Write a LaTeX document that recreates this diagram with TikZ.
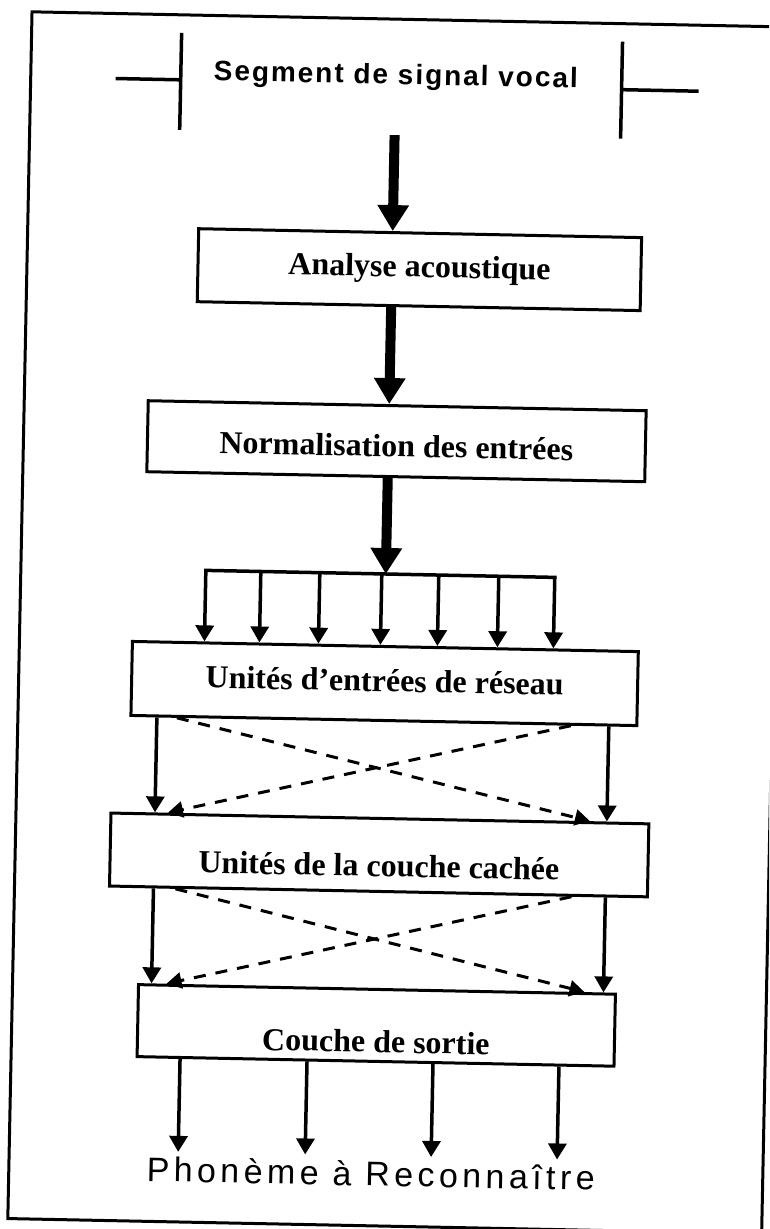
\documentclass[tikz,border=0pt]{standalone}
\usepackage{fontspec}
\usetikzlibrary{arrows.meta}
\newfontfamily\boxfont{Liberation Serif}
\newfontfamily\capfont{Liberation Sans}[LetterSpace=7]
\newfontfamily\outfont{Liberation Sans}[LetterSpace=13]
\begin{document}
\begin{tikzpicture}[x=1pt,y=-1pt,
  box/.style={draw, line width=3pt, inner sep=0pt, anchor=north,
    font={\boxfont\bfseries\fontsize{32pt}{36pt}\selectfont}},
  bigarrow/.style={line width=10pt, -{Triangle[width=30pt,length=26pt]}},
  thinarrow/.style={line width=3.5pt, -{Triangle[width=18pt,length=16pt]}},
  dasharrow/.style={line width=3pt, dash pattern=on 12pt off 10pt,
    -{Triangle[width=16pt,length=15pt]}},
  tickline/.style={line width=3.5pt},
  frameline/.style={line width=3pt}]
\useasboundingbox (0,0) rectangle (769,1229);
\clip (0,0) rectangle (769,1229);
\begin{scope}[rotate around={-1.15:(384.5,614.5)}, transform shape]
  % outer frame
  \draw[frameline] (20,19) rectangle (774,1226);

  % input segment with its two delimiters
  \node[font={\capfont\bfseries\fontsize{28pt}{31pt}\selectfont}, anchor=base, inner sep=0pt]
    (title) at (385,84) {Segment de signal vocal};
  \draw[tickline] (105,84) -- (170,84);
  \draw[tickline] (170,37) -- (170,134);
  \draw[tickline] (611,37) -- (611,134);
  \draw[tickline] (611,85) -- (688,85);

  % processing chain
  \node[box, minimum width=443pt, text height=44pt, text depth=29pt] (b1) at (412.5,231) {Analyse acoustique};
  \node[box, minimum width=498pt, text height=51pt, text depth=20pt] (b2) at (393,404) {Normalisation des entrées};
  \node[box, minimum width=506pt, text height=45pt, text depth=29pt] (b3) at (386,645) {Unités d’entrées de réseau};
  \node[box, minimum width=538pt, text height=58pt, text depth=15pt] (b4) at (384,817) {Unités de la couche cachée};
  \node[box, minimum width=477pt, text height=63pt, text depth=9pt] (b5) at (384.5,988) {Couche de sortie};

  % thick arrows down the centre
  \coordinate (src) at (385,135);
  \draw[bigarrow] (src) -- (385,0 |- b1.north);
  \draw[bigarrow] (385,0 |- b1.south) -- (385,0 |- b2.north);
  \coordinate (busL) at (205,574);
  \coordinate (busR) at (554,574);
  \coordinate (busM) at (385,574);
  \draw[bigarrow] (385,0 |- b2.south) -- (busM);

  % distribution bus to the input units
  \draw[line width=3.5pt, line cap=rect] (busL) -- (busR);
  \foreach \x in {205,260,319,381,438,498,554}
    \draw[thinarrow] (\x,574) -- (\x,0 |- b3.north);

  % input units -> hidden layer
  \draw[thinarrow] (159,0 |- b3.south) -- (159,0 |- b4.north);
  \draw[thinarrow] (611,0 |- b3.south) -- (611,0 |- b4.north);
  \draw[dasharrow] (179,0 |- b3.south) -- (594,0 |- b4.north);
  \draw[dasharrow] (573,0 |- b3.south) -- (172,0 |- b4.north);

  % hidden layer -> output layer
  \draw[thinarrow] (159,0 |- b4.south) -- (159,0 |- b5.north);
  \draw[thinarrow] (611,0 |- b4.south) -- (611,0 |- b5.north);
  \draw[dasharrow] (181,0 |- b4.south) -- (592,0 |- b5.north);
  \draw[dasharrow] (577,0 |- b4.south) -- (174,0 |- b5.north);

  % outputs
  \foreach \x [count=\i] in {189,316,442,568} {
    \coordinate (out\i) at (\x,1156);
    \draw[thinarrow] (\x,0 |- b5.south) -- (out\i);
  }
  \node[font={\outfont\fontsize{34pt}{38pt}\selectfont}, anchor=base, inner sep=0pt]
    (phon) at (382,1186) {Phonème à Reconnaître};
\end{scope}
\end{tikzpicture}
\end{document}
